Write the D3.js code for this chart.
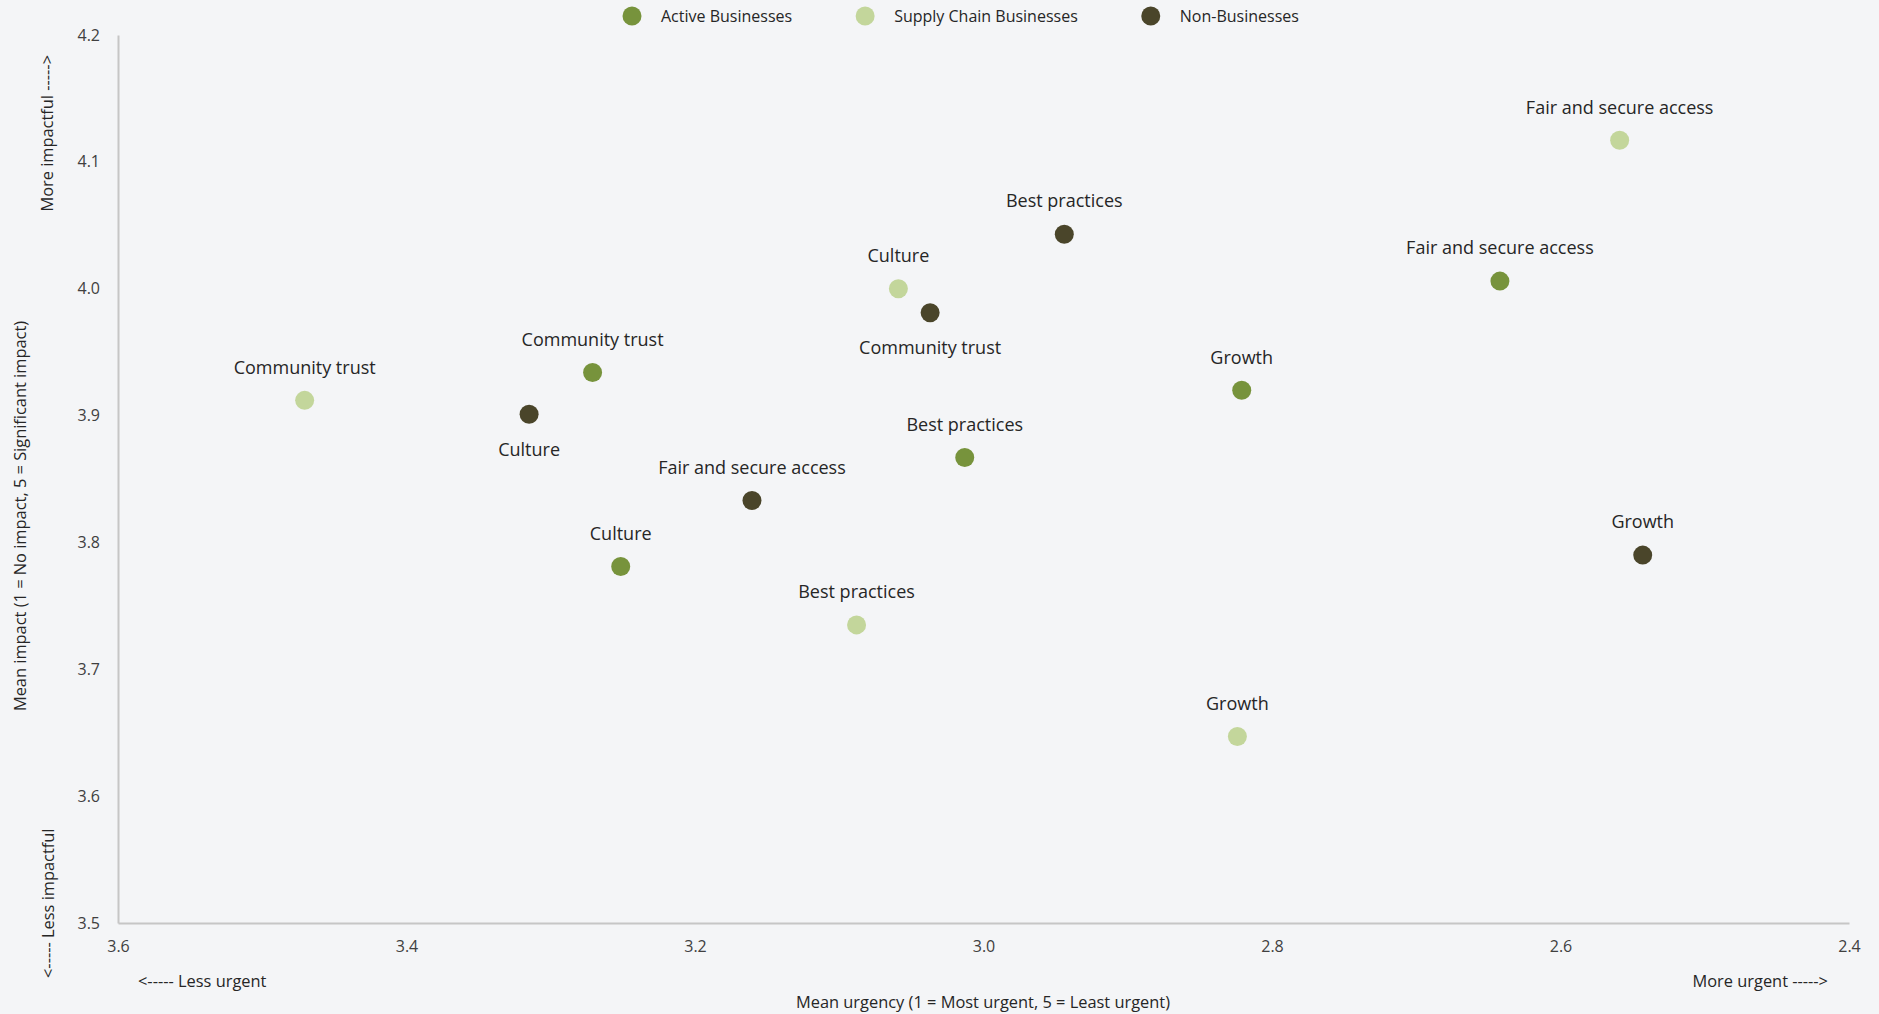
<!DOCTYPE html>
<html>
<head>
<meta charset="utf-8">
<script src="https://cdn.jsdelivr.net/npm/d3@7"></script>
<style>
  body { margin: 0; background: #f4f5f7; }
  svg { display: block; font-family: "Open Sans", sans-serif; }
</style>
</head>
<body>
<div id="chart"></div>
<script>
// data
const groups = ["Active Businesses", "Supply Chain Businesses", "Non-Businesses"];
const colors = ["#77933c", "#c3d69b", "#4a452a"];

const topics = ["Community trust", "Culture", "Fair and secure access", "Growth", "Best practices"];

// mean urgency per group, in topic order
const urgencyActive = [3.271, 3.2515, 2.642, 2.821, 3.013];
const urgencySupply = [3.4706, 3.059, 2.559, 2.824, 3.088];
const urgencyNon    = [3.037, 3.315, 3.1605, 2.543, 2.944];

// mean impact per group, in topic order
const impactActive = [3.934, 3.781, 4.006, 3.920, 3.867];
const impactSupply = [3.912, 4.000, 4.117, 3.647, 3.735];
const impactNon    = [3.981, 3.901, 3.833, 3.790, 4.043];

const xTicks = [3.6, 3.4, 3.2, 3.0, 2.8, 2.6, 2.4];
const yTicks = [3.5, 3.6, 3.7, 3.8, 3.9, 4.0, 4.1, 4.2];

// labels drawn under the dot instead of above it
const labelsBelow = ["Non-Businesses|Community trust", "Non-Businesses|Culture"];

const urgency = [urgencyActive, urgencySupply, urgencyNon];
const impact = [impactActive, impactSupply, impactNon];

const points = groups.flatMap((g, gi) =>
  topics.map((t, ti) => ({
    group: g,
    topic: t,
    color: colors[gi],
    x: urgency[gi][ti],
    y: impact[gi][ti]
  }))
);

const W = 1879, H = 1014;
const margin = { top: 35, right: 30, bottom: 91, left: 118 };
const width = W - margin.left - margin.right;
const height = H - margin.top - margin.bottom;

const svg = d3.select("#chart").append("svg")
  .attr("width", W)
  .attr("height", H);

const g = svg.append("g")
  .attr("transform", `translate(${margin.left},${margin.top})`);

// urgency axis runs backwards: less urgent on the left
const x = d3.scaleLinear().domain([3.6, 2.4]).range([0, width]);
const y = d3.scaleLinear().domain([3.5, 4.2]).range([height, 0]);

const xAxis = g.append("g")
  .attr("transform", `translate(0,${height})`)
  .call(d3.axisBottom(x).tickValues(xTicks).tickSize(0).tickPadding(18).tickFormat(d3.format(".1f")));

const yAxis = g.append("g")
  .call(d3.axisLeft(y).tickValues(yTicks).tickSize(0).tickPadding(18).tickFormat(d3.format(".1f")));

[xAxis, yAxis].forEach(a => {
  a.select(".domain").attr("stroke", "#c6c6c6").attr("stroke-width", 2);
  a.selectAll("text")
    .attr("fill", "#404040")
    .style("font-size", "16px")
    .style("font-family", "'Open Sans', sans-serif");
});

// dots
g.append("g")
  .selectAll("circle")
  .data(points)
  .join("circle")
    .attr("cx", d => x(d.x))
    .attr("cy", d => y(d.y))
    .attr("r", 9.5)
    .attr("fill", d => d.color);

// point labels
g.append("g")
  .selectAll("text")
  .data(points)
  .join("text")
    .attr("x", d => x(d.x))
    .attr("y", d => labelsBelow.includes(d.group + "|" + d.topic) ? y(d.y) + 35 : y(d.y) - 33)
    .attr("dy", "0.35em")
    .attr("text-anchor", "middle")
    .attr("fill", "#262626")
    .style("font-size", "18px")
    .text(d => d.topic);

// axis titles
const titleSize = "16.4px";

svg.append("text")
  .attr("x", 983)
  .attr("y", 1002)
  .attr("dy", "0.35em")
  .attr("text-anchor", "middle")
  .attr("fill", "#262626")
  .style("font-size", titleSize)
  .text("Mean urgency (1 = Most urgent, 5 = Least urgent)");

svg.append("text")
  .attr("x", 138)
  .attr("y", 981)
  .attr("dy", "0.35em")
  .attr("fill", "#262626")
  .style("font-size", titleSize)
  .text("<----- Less urgent");

svg.append("text")
  .attr("x", 1828)
  .attr("y", 981)
  .attr("dy", "0.35em")
  .attr("text-anchor", "end")
  .attr("fill", "#262626")
  .style("font-size", titleSize)
  .text("More urgent ----->");

svg.append("text")
  .attr("transform", "translate(20,516) rotate(-90)")
  .attr("dy", "0.35em")
  .attr("text-anchor", "middle")
  .attr("fill", "#262626")
  .style("font-size", titleSize)
  .text("Mean impact (1 = No impact, 5 = Significant impact)");

svg.append("text")
  .attr("transform", "translate(47,55) rotate(-90)")
  .attr("dy", "0.35em")
  .attr("text-anchor", "end")
  .attr("fill", "#262626")
  .style("font-size", titleSize)
  .text("More impactful ----->");

svg.append("text")
  .attr("transform", "translate(48,978) rotate(-90)")
  .attr("dy", "0.35em")
  .attr("text-anchor", "start")
  .attr("fill", "#262626")
  .style("font-size", titleSize)
  .text("<----- Less impactful");

// legend along the top
const legend = svg.append("g").attr("transform", "translate(632,16)");
let lx = 0;
groups.forEach((name, i) => {
  const item = legend.append("g").attr("transform", `translate(${lx},0)`);
  item.append("circle").attr("r", 9.5).attr("fill", colors[i]);
  const t = item.append("text")
    .attr("x", 29)
    .attr("dy", "0.35em")
    .attr("fill", "#262626")
    .style("font-size", "16px")
    .text(name);
  lx += 29 + t.node().getComputedTextLength() + 73;
});
</script>
</body>
</html>
